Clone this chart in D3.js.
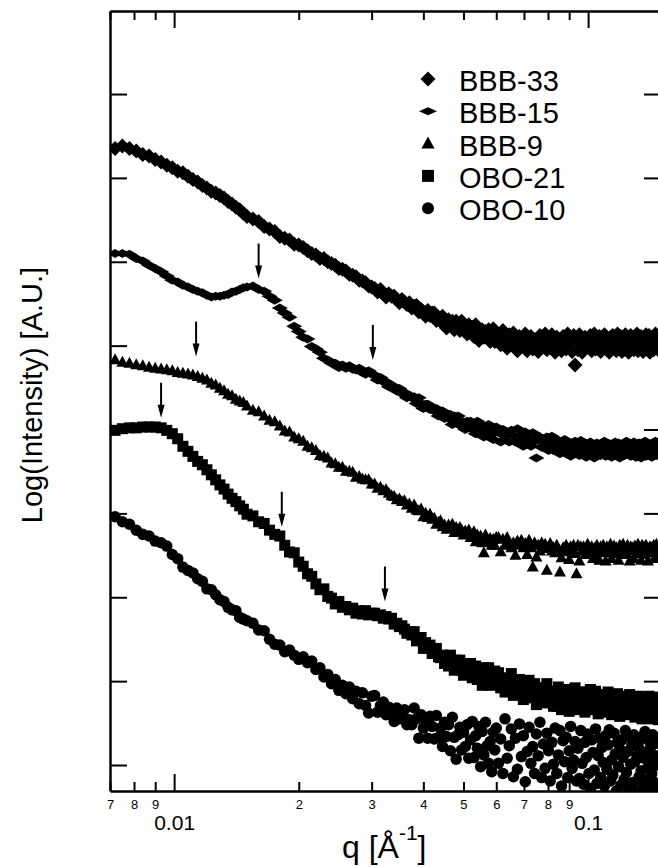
<!DOCTYPE html>
<html>
<head>
<meta charset="utf-8">
<script src="https://cdn.jsdelivr.net/npm/d3@7"></script>
<style>
  body { margin: 0; background: #fff; }
  svg { display: block; font-family: "Liberation Sans", Arial, sans-serif; }
</style>
</head>
<body>
<svg id="chart" width="658" height="867"></svg>
<script>
// q grid shared by all samples [1/A]
const qValues = [
  0.0072,0.0075,0.0078,0.0081,0.0084,0.0087,0.0090,0.0093,0.0096,0.0099,0.0102,0.0105,0.0108,
  0.0111,0.0114,0.0117,0.0120,0.0123,0.0126,0.0129,0.0132,0.0135,0.0138,0.0141,0.0144,0.0147,
  0.0150,0.0155,0.0160,0.0165,0.0170,0.0175,0.0180,0.0185,0.0190,0.0195,0.0200,0.0205,0.0210,
  0.0215,0.0220,0.0225,0.0230,0.0235,0.0240,0.0245,0.0250,0.0255,0.0260,0.0265,0.0270,0.0275,
  0.0280,0.0285,0.0290,0.0295,0.0300,
  0.0305,0.0310,0.0315,0.0320,0.0325,0.0330,0.0335,0.0340,0.0345,0.0350,0.0355,0.0360,0.0365,0.0370,0.0375,
  0.0380,0.0385,0.0390,0.0395,0.0400,0.0405,0.0410,0.0415,0.0420,0.0425,0.0430,0.0435,0.0440,0.0445,0.0450,
  0.0455,0.0460,0.0465,0.0470,0.0475,0.0480,0.0485,0.0490,0.0495,0.0500,0.0505,0.0510,0.0515,0.0520,0.0525,
  0.0530,0.0535,0.0540,0.0545,0.0550,0.0555,0.0560,0.0565,0.0570,0.0575,0.0580,0.0585,0.0590,0.0595,0.0600,
  0.06075,0.0615,0.06225,0.063,0.06375,0.0645,0.06525,0.066,0.06675,0.0675,
  0.06825,0.069,0.06975,0.0705,0.07125,0.072,0.07275,0.0735,0.07425,0.075,
  0.07575,0.0765,0.07725,0.078,0.07875,0.0795,0.08025,0.081,0.08175,0.0825,
  0.08325,0.084,0.08475,0.0855,0.08625,0.087,0.08775,0.0885,0.08925,0.090,
  0.09075,0.0915,0.09225,0.093,0.09375,0.0945,0.09525,0.096,0.09675,0.0975,
  0.09825,0.099,0.09975,0.1005,0.10125,0.102,0.10275,0.1035,0.10425,0.105,
  0.10575,0.1065,0.10725,0.108,0.10875,0.1095,0.11025,0.111,0.11175,0.1125,
  0.11325,0.114,0.11475,0.1155,0.11625,0.117,0.11775,0.1185,0.11925,0.120,
  0.12075,0.1215,0.12225,0.123,0.12375,0.1245,0.12525,0.126,0.12675,0.1275,
  0.12825,0.129,0.12975,0.1305,0.13125,0.132,0.13275,0.1335,0.13425,0.135,
  0.13575,0.1365,0.13725,0.138,0.13875,0.1395,0.14025,0.141,0.14175,0.1425,
  0.14325,0.144,0.14475,0.1455,0.14625,0.147,0.14775,0.1485
];

// log intensity, curves shifted apart (arbitrary units: one y tick = 1)
const bbb33 = [
  7.35,7.38,7.35,7.32,7.28,7.26,7.22,7.19,7.15,7.12,7.08,7.06,7.02,6.98,6.95,6.91,6.88,6.84,6.82,6.79,6.76,6.72,6.69,6.65,6.62,6.58,
  6.54,6.51,6.48,6.42,6.39,6.36,6.30,6.28,6.26,6.21,6.20,6.17,6.13,6.10,6.08,6.04,6.04,6.00,5.98,5.96,5.92,5.91,5.89,5.85,5.84,5.82,5.78,5.77,5.75,5.71,5.70,
  5.68,5.64,5.67,5.62,5.58,5.62,5.59,5.59,5.55,5.51,5.55,5.52,5.49,5.51,5.45,5.47,5.48,5.40,5.43,5.40,
  5.35,5.42,5.36,5.39,5.39,5.30,5.32,5.29,5.35,5.30,5.21,5.31,5.25,5.29,5.19,5.29,5.24,5.18,5.29,5.18,
  5.22,5.14,5.25,5.17,5.22,5.11,5.25,5.16,5.06,5.17,5.19,5.10,5.17,5.10,5.19,5.05,5.12,5.20,5.05,5.13,
  5.12,5.01,5.18,5.06,4.97,5.13,5.06,5.15,5.00,4.94,5.11,5.05,4.99,5.14,4.94,5.04,5.11,4.96,5.07,5.02,
  4.93,5.12,5.00,5.09,5.14,4.95,5.03,4.98,5.13,5.05,4.92,5.10,5.01,5.07,4.94,5.11,5.04,4.96,5.14,4.99,
  5.06,4.93,5.12,4.77,5.09,4.95,5.13,5.03,4.92,5.05,5.10,4.98,5.07,5.00,5.12,4.94,5.04,5.14,4.96,5.06,
  5.01,5.11,4.93,5.09,4.99,5.13,5.03,4.95,5.05,4.92,5.10,5.02,5.12,4.98,5.06,4.94,5.14,5.00,5.04,5.11,
  4.93,5.07,4.96,5.13,5.01,5.09,4.92,5.03,5.12,4.99,5.05,4.95,5.10,5.02,5.14,4.94,5.06,4.98,5.11,5.04,
  4.93,5.07,5.00,5.13,4.96,5.03,5.12,4.92,5.09,5.01,5.10,4.95,5.05,5.14,4.99,5.02,5.09,4.94
];
const bbb15 = [
  6.10,6.10,6.09,6.04,6.01,5.96,5.92,5.88,5.83,5.78,5.76,5.72,5.70,5.67,5.65,5.63,5.60,5.58,5.59,5.59,5.60,5.61,5.64,5.65,5.67,5.69,
  5.70,5.71,5.67,5.65,5.59,5.54,5.45,5.39,5.34,5.23,5.17,5.10,5.08,4.99,4.96,4.92,4.85,4.83,4.79,4.79,4.74,4.77,4.73,4.76,4.72,4.71,4.73,4.68,4.66,4.70,4.66,
  4.65,4.59,4.62,4.57,4.57,4.51,4.53,4.49,4.46,4.49,4.43,4.44,4.38,4.41,4.38,4.39,4.31,4.38,4.31,4.25,
  4.30,4.30,4.24,4.26,4.22,4.25,4.16,4.20,4.22,4.13,4.17,4.13,4.18,4.06,4.16,4.08,4.16,4.09,4.04,4.09,
  4.00,4.10,4.04,4.10,4.00,4.06,3.95,4.10,3.97,4.00,4.05,3.91,4.02,3.93,4.06,3.95,4.02,3.88,3.96,4.03,
  3.97,3.85,4.00,3.92,3.97,3.85,3.99,3.93,3.85,4.01,3.86,3.93,3.80,3.97,3.87,3.93,3.80,3.96,3.86,3.66,
  3.87,3.91,3.79,3.88,3.80,3.91,3.75,3.83,3.92,3.75,3.84,3.79,3.87,3.71,3.85,3.75,3.88,3.79,3.71,3.80,
  3.68,3.84,3.77,3.86,3.72,3.80,3.69,3.87,3.74,3.78,3.84,3.67,3.80,3.70,3.85,3.74,3.81,3.66,3.76,3.84,
  3.72,3.78,3.69,3.82,3.75,3.86,3.68,3.79,3.71,3.83,3.77,3.67,3.80,3.73,3.85,3.70,3.76,3.84,3.66,3.81,
  3.74,3.82,3.69,3.78,3.86,3.72,3.75,3.81,3.68,3.79,3.69,3.85,3.74,3.67,3.81,3.76,3.84,3.71,3.66,3.82,
  3.78,3.72,3.86,3.68,3.77,3.83,3.70,3.80,3.75,3.67,3.84,3.73,3.81,3.86,3.69,3.76,3.71,3.85
];
const bbb9 = [
  4.83,4.80,4.79,4.77,4.76,4.74,4.73,4.72,4.71,4.70,4.68,4.67,4.66,4.65,4.63,4.61,4.59,4.55,4.53,4.49,4.46,4.42,4.40,4.36,4.34,4.32,
  4.28,4.23,4.21,4.16,4.11,4.09,4.04,3.98,3.97,3.91,3.89,3.86,3.80,3.78,3.75,3.69,3.68,3.66,3.60,3.59,3.55,3.55,3.50,3.50,3.49,3.43,3.44,3.41,3.40,3.40,3.35,
  3.35,3.30,3.31,3.27,3.28,3.24,3.21,3.20,3.16,3.17,3.14,3.15,3.10,3.11,3.06,3.10,3.04,3.03,3.05,2.96,
  3.00,2.95,2.99,2.93,2.94,2.87,2.89,2.91,2.84,2.86,2.81,2.86,2.83,2.87,2.77,2.83,2.78,2.83,2.80,2.74,
  2.79,2.75,2.80,2.71,2.74,2.78,2.66,2.74,2.69,2.73,2.65,2.53,2.74,2.66,2.67,2.70,2.62,2.69,2.62,2.71,
  2.71,2.54,2.69,2.62,2.71,2.64,2.59,2.65,2.50,2.67,2.62,2.68,2.59,2.64,2.51,2.68,2.59,2.36,2.65,2.48,
  2.62,2.55,2.65,2.58,2.63,2.32,2.58,2.64,2.55,2.59,2.53,2.62,2.56,2.30,2.47,2.59,2.54,2.62,2.58,2.45,
  2.60,2.54,2.62,2.52,2.28,2.62,2.43,2.60,2.55,2.60,2.51,2.57,2.63,2.53,2.55,2.60,2.46,2.58,2.51,2.62,
  2.55,2.44,2.60,2.56,2.62,2.53,2.43,2.60,2.57,2.53,2.63,2.46,2.57,2.61,2.52,2.59,2.55,2.44,2.62,2.54,
  2.60,2.63,2.51,2.56,2.53,2.62,2.57,2.43,2.60,2.55,2.59,2.46,2.61,2.57,2.52,2.63,2.53,2.58,2.44,2.62,
  2.55,2.60,2.51,2.62,2.56,2.43,2.57,2.60,2.53,2.59,2.54,2.62,2.46,2.57,2.63,2.52,2.58,2.55
];
const obo21 = [
  3.99,4.01,4.02,4.02,4.03,4.03,4.03,4.02,3.99,3.95,3.89,3.80,3.74,3.68,3.62,3.58,3.52,3.46,3.40,3.34,3.29,3.23,3.18,3.14,3.09,3.05,
  2.99,2.97,2.90,2.88,2.80,2.75,2.73,2.62,2.54,2.53,2.42,2.37,2.28,2.25,2.16,2.09,2.10,2.01,1.99,1.92,1.95,1.88,1.89,1.85,1.87,1.81,1.84,1.80,1.84,1.79,1.81,
  1.81,1.78,1.79,1.75,1.77,1.74,1.75,1.68,1.69,1.65,1.66,1.62,1.57,1.59,1.55,1.59,1.48,1.50,1.52,1.39,
  1.46,1.40,1.43,1.33,1.36,1.39,1.29,1.28,1.31,1.21,1.28,1.18,1.31,1.20,1.13,1.25,1.19,1.25,1.13,1.07,
  1.20,1.16,1.09,1.21,1.04,1.12,1.18,1.02,1.13,1.06,0.95,1.16,1.01,1.10,1.16,0.95,1.02,0.96,1.12,1.02,
  1.10,0.92,1.01,0.87,1.04,0.94,1.09,0.83,0.97,0.86,1.02,0.92,0.78,0.96,0.85,1.01,0.80,0.87,0.97,0.72,
  0.92,0.82,0.92,0.74,0.86,0.97,0.76,0.81,0.88,0.70,0.84,0.70,0.93,0.77,0.66,0.86,0.79,0.90,0.71,0.64,
  0.86,0.81,0.72,0.92,0.66,0.78,0.87,0.69,0.83,0.75,0.63,0.87,0.72,0.83,0.90,0.66,0.75,0.68,0.88,0.78,
  0.61,0.83,0.72,0.80,0.63,0.84,0.75,0.66,0.87,0.67,0.77,0.60,0.84,0.72,0.80,0.62,0.85,0.72,0.58,0.75,
  0.80,0.65,0.77,0.67,0.82,0.60,0.72,0.84,0.62,0.74,0.67,0.80,0.57,0.77,0.63,0.82,0.69,0.59,0.72,0.55,
  0.77,0.68,0.80,0.62,0.73,0.57,0.82,0.64,0.69,0.78,0.55,0.74,0.60,0.81,0.65,0.75,0.54,0.68
];
const obo10 = [
  2.96,2.90,2.87,2.80,2.75,2.73,2.67,2.65,2.61,2.51,2.46,2.36,2.32,2.29,2.22,2.19,2.10,2.09,2.03,1.97,1.95,1.88,1.85,1.84,1.76,1.74,
  1.72,1.69,1.61,1.60,1.50,1.44,1.43,1.35,1.37,1.31,1.26,1.29,1.22,1.24,1.14,1.16,1.05,1.08,0.97,1.02,0.89,0.95,0.85,0.93,0.79,0.88,0.73,0.86,0.71,0.62,0.82,
  0.83,0.63,0.71,0.75,0.60,0.69,0.62,0.52,0.68,0.55,0.62,0.66,0.48,0.54,0.48,0.68,0.55,0.32,0.60,0.44,
  0.54,0.32,0.58,0.46,0.31,0.59,0.33,0.44,0.22,0.51,0.34,0.48,0.17,0.57,0.33,0.07,0.36,0.45,0.18,0.39,
  0.22,0.48,0.08,0.30,0.52,0.09,0.35,0.20,0.46,-0.02,0.40,0.12,0.51,0.23,0.02,0.28,-0.08,0.39,0.18,0.44,
  0.02,0.31,-0.10,0.55,0.08,0.23,0.43,-0.14,0.32,-0.05,0.49,0.10,0.35,-0.20,0.16,0.45,0.02,0.22,-0.10,0.37,
  0.11,0.51,-0.15,0.25,-0.04,0.38,0.17,-0.19,0.27,0.01,0.44,-0.10,0.12,0.41,-0.25,0.29,0.04,0.33,-0.15,0.17,
  0.46,-0.04,0.06,0.28,-0.19,0.20,-0.16,0.41,0.02,-0.23,0.27,0.09,0.37,-0.10,-0.28,0.30,0.15,-0.06,0.43,-0.22,
  0.11,0.32,-0.15,0.21,0.03,-0.25,0.35,-0.05,0.24,0.42,-0.19,0.06,-0.12,0.38,0.13,-0.31,0.27,-0.02,0.19,-0.24,
  0.30,0.09,-0.17,0.41,-0.09,0.16,-0.27,0.34,0.01,0.23,-0.21,0.36,0.04,-0.32,0.11,0.26,-0.14,0.18,-0.07,0.33,
  -0.25,0.08,0.40,-0.18,0.15,-0.03,0.29,-0.28,0.22,-0.10,0.36,0.04,-0.21,0.11,-0.32,0.26,0.00,0.33
];

const seriesNames = ['BBB-33', 'BBB-15', 'BBB-9', 'OBO-21', 'OBO-10'];
const seriesShapes = ['diamond', 'flatDiamond', 'triangle', 'square', 'circle'];

// peak markers: q position and intensity at the arrow tip
const arrowQ = [0.0160, 0.0302, 0.0113, 0.0093, 0.0182, 0.0323];
const arrowTip = [5.80, 4.83, 4.87, 4.14, 2.84, 1.95];

// axis ticks
const xMajorTicks = [0.01, 0.1];
const xMinorTicks = [0.007, 0.008, 0.009, 0.02, 0.03, 0.04, 0.05, 0.06, 0.07, 0.08, 0.09];
const xMinorLabels = ['7', '8', '9', '2', '3', '4', '5', '6', '7', '8', '9'];
const yTicks = [0, 1, 2, 3, 4, 5, 6, 7, 8];

const config = {
  containerWidth: 658,
  containerHeight: 867,
  margin: {top: 11, right: -3, bottom: 76, left: 110}
};
const width = config.containerWidth - config.margin.left - config.margin.right;
const height = config.containerHeight - config.margin.top - config.margin.bottom;

const svg = d3.select('#chart')
    .attr('width', config.containerWidth)
    .attr('height', config.containerHeight);

const chart = svg.append('g')
    .attr('transform', `translate(${config.margin.left},${config.margin.top})`);

const xScale = d3.scaleLog()
    .domain([0.007, 0.15])
    .range([0, width]);

const yScale = d3.scaleLinear()
    .domain([-0.31, 8.99])
    .range([height, 0]);

// clip marks to the frame
svg.append('defs').append('clipPath')
    .attr('id', 'plot-clip')
  .append('rect')
    .attr('width', width)
    .attr('height', height);

// symbol outlines centred on 0,0, [w, h] in px
const plotSizes = {diamond: [15, 15], flatDiamond: [16, 9], triangle: [12, 11], square: [11, 11], circle: [11.5, 11.5]};
const legendSizes = {diamond: [15, 15], flatDiamond: [18, 8], triangle: [13, 12], square: [12, 12], circle: [12, 12]};

function markerPath(shape, size) {
  const w = size[0] / 2, h = size[1] / 2;
  if (shape === 'diamond' || shape === 'flatDiamond') return `M0,${-h}L${w},0L0,${h}L${-w},0Z`;
  if (shape === 'triangle') return `M0,${-h * 1.2}L${w},${h * 0.8}L${-w},${h * 0.8}Z`;
  if (shape === 'square') return `M${-w},${-h}H${w}V${h}H${-w}Z`;
  return `M${w},0A${w},${w} 0 1,1 ${-w},0A${w},${w} 0 1,1 ${w},0Z`;
}

const seriesData = [bbb33, bbb15, bbb9, obo21, obo10].map((vals, i) => ({
  name: seriesNames[i],
  shape: seriesShapes[i],
  points: qValues.map((q, j) => ({q: q, v: vals[j]})).filter(d => d.v !== undefined)
}));

const marks = chart.append('g').attr('clip-path', 'url(#plot-clip)');

seriesData.forEach(s => {
  marks.append('g')
      .attr('class', 'series')
    .selectAll('path')
      .data(s.points)
    .join('path')
      .attr('d', markerPath(s.shape, plotSizes[s.shape]))
      .attr('transform', d => `translate(${xScale(d.q)},${yScale(d.v)})`)
      .attr('fill', '#000');
});

// arrows above the features
const arrows = chart.append('g').attr('class', 'arrows');
arrowQ.forEach((q, i) => {
  const x = xScale(q);
  const yTip = yScale(arrowTip[i]);
  arrows.append('line')
      .attr('x1', x).attr('x2', x)
      .attr('y1', yTip - 35).attr('y2', yTip - 10)
      .attr('stroke', '#000')
      .attr('stroke-width', 2);
  arrows.append('path')
      .attr('d', `M${x - 3.5},${yTip - 13}L${x + 3.5},${yTip - 13}L${x},${yTip}Z`)
      .attr('fill', '#000');
});

// axes, ticks pointing inward
function styleAxis(g, fontSize) {
  g.selectAll('.tick line').attr('stroke', '#000').attr('stroke-width', 2);
  g.selectAll('.tick text')
      .attr('fill', '#000')
      .style('font-size', fontSize + 'px')
      .style('font-family', '"Liberation Sans", Arial, sans-serif');
  g.select('.domain').attr('stroke', '#000').attr('stroke-width', 2.5);
}

const xAxisMajor = d3.axisBottom(xScale)
    .tickValues(xMajorTicks)
    .tickSizeInner(-17)
    .tickSizeOuter(0)
    .tickPadding(24)
    .tickFormat(d => String(d));
const xAxisMinor = d3.axisBottom(xScale)
    .tickValues(xMinorTicks)
    .tickSizeInner(-9)
    .tickSizeOuter(0)
    .tickPadding(9)
    .tickFormat((d, i) => xMinorLabels[i]);

chart.append('g')
    .attr('transform', `translate(0,${height})`)
    .call(xAxisMajor)
    .call(g => styleAxis(g, 21));
chart.append('g')
    .attr('transform', `translate(0,${height})`)
    .call(xAxisMinor)
    .call(g => styleAxis(g, 13))
    .call(g => g.select('.domain').remove());

chart.append('g')
    .call(d3.axisTop(xScale).tickValues(xMajorTicks).tickSizeInner(-17).tickSizeOuter(0).tickFormat(''))
    .call(g => styleAxis(g, 10));
chart.append('g')
    .call(d3.axisTop(xScale).tickValues(xMinorTicks).tickSizeInner(-9).tickSizeOuter(0).tickFormat(''))
    .call(g => styleAxis(g, 10))
    .call(g => g.select('.domain').remove());

chart.append('g')
    .call(d3.axisLeft(yScale).tickValues(yTicks).tickSizeInner(-17).tickSizeOuter(0).tickFormat(''))
    .call(g => styleAxis(g, 10));
chart.append('g')
    .attr('transform', `translate(${width},0)`)
    .call(d3.axisRight(yScale).tickValues(yTicks).tickSizeInner(-17).tickSizeOuter(0).tickFormat(''))
    .call(g => styleAxis(g, 10));

// axis titles
svg.append('text')
    .attr('transform', 'translate(42,395) rotate(-90)')
    .attr('text-anchor', 'middle')
    .style('font-size', '29px')
    .text('Log(Intensity) [A.U.]');

const xTitle = svg.append('text')
    .attr('x', 342)
    .attr('y', 858)
    .style('font-size', '32px');
xTitle.append('tspan').text('q [Å');
xTitle.append('tspan').attr('dy', -18).style('font-size', '21px').text('-1');
xTitle.append('tspan').attr('dy', 18).text(']');

// legend
const legend = svg.append('g').attr('class', 'legend');
seriesData.forEach((s, i) => {
  const base = 91 + i * 32.3;
  legend.append('path')
      .attr('d', markerPath(s.shape, legendSizes[s.shape]))
      .attr('transform', `translate(428,${base - 12})`)
      .attr('fill', '#000');
  legend.append('text')
      .attr('x', 459)
      .attr('y', base)
      .style('font-size', '29px')
      .text(s.name);
});
</script>
</body>
</html>
